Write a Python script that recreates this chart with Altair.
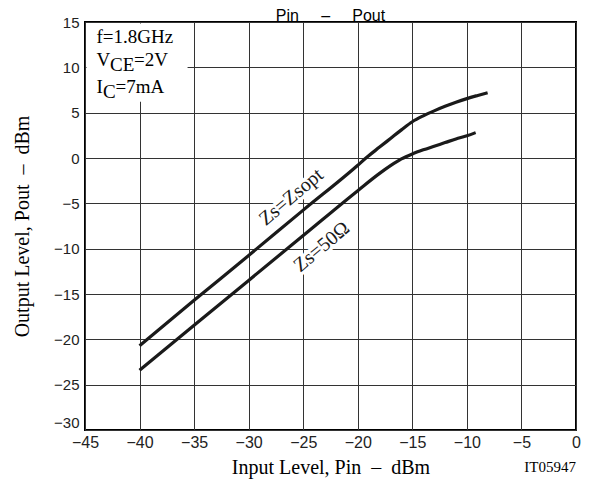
import altair as alt
import pandas as pd

# --- data ------------------------------------------------------------------
x_opt = [-40, -35, -30, -25, -20, -19.25, -18, -17, -16, -15, -14, -13, -12, -11, -10, -9, -8.1]
y_opt = [-20.7, -15.7, -10.75, -5.75, -0.8, 0.0, 1.2, 2.15, 3.1, 4.0, 4.65, 5.2, 5.7, 6.15, 6.55, 6.9, 7.2]

x_50 = [-40, -35, -30, -25, -20, -18, -17, -16, -15, -14, -13, -12, -11, -10, -9.2]
y_50 = [-23.4, -18.45, -13.5, -8.55, -3.6, -1.7, -0.85, -0.1, 0.45, 0.9, 1.3, 1.7, 2.1, 2.45, 2.8]

series_names = ["Zs=Zsopt", "Zs=50Ω"]

x_ticks = [-45, -40, -35, -30, -25, -20, -15, -10, -5, 0]
y_ticks = [-30, -25, -20, -15, -10, -5, 0, 5, 10, 15]

# curve labels (data coordinates of their centres)
lab_text = ["Zs=Zsopt", "Zs=50Ω"]
lab_x = [-26.1, -23.3]
lab_y = [-4.3, -9.8]

# condition box (data extents)
box_x = [-44.86]
box_x2 = [-35.6]
box_y = [14.83]
box_y2 = [6.2]

NB = "\u00a0"
SERIF = "Liberation Serif"
SANS = "Liberation Sans"

lines_df = pd.DataFrame(
    {"x": x_opt + x_50,
     "y": y_opt + y_50,
     "series": [series_names[0]] * len(x_opt) + [series_names[1]] * len(x_50)}
)
labels_df = pd.DataFrame({"x": lab_x, "y": lab_y, "t": lab_text})
box_df = pd.DataFrame({"x": box_x, "x2": box_x2, "y": box_y, "y2": box_y2})

xs = alt.Scale(domain=[-45, 0], nice=False, zero=False)
ys = alt.Scale(domain=[-30, 15], nice=False, zero=False)

x_axis = alt.Axis(
    values=x_ticks, title=f"Input Level, Pin{NB}{NB}–{NB}{NB}dBm",
    titleFont=SERIF, titleFontSize=20, titleFontWeight="normal", titleColor="black",
    titlePadding=7, labelFont=SANS, labelFontSize=16, labelColor="#222",
    labelPadding=4, labelFlush=False, ticks=False, domain=False,
    grid=True, gridColor="#333", gridWidth=1, gridOpacity=1,
)
y_axis = alt.Axis(
    values=y_ticks, title=f"Output Level, Pout{NB}{NB}–{NB}{NB}dBm",
    titleFont=SERIF, titleFontSize=20, titleFontWeight="normal", titleColor="black",
    titlePadding=21, labelFont=SANS, labelFontSize=15, labelColor="#222",
    labelPadding=6, ticks=False, domain=False,
    labelBaseline={"condition": {"test": "datum.value === -30", "value": "bottom"}, "value": "middle"},
    grid=True, gridColor="#333", gridWidth=1, gridOpacity=1,
)

X = alt.X("x:Q", scale=xs, axis=x_axis)
Y = alt.Y("y:Q", scale=ys, axis=y_axis)

box = alt.Chart(box_df).mark_rect(fill="white", stroke=None).encode(
    x=X, x2="x2:Q", y=Y, y2="y2:Q"
)

halo = alt.Chart(labels_df).mark_text(
    font=SERIF, fontSize=20, angle=320, stroke="white", strokeWidth=7,
    fill="white", align="center", baseline="middle"
).encode(x=X, y=Y, text="t:N")

lines = alt.Chart(lines_df).mark_line(
    color="#1a1a1a", strokeWidth=3.2, interpolate="monotone"
).encode(x=X, y=Y, detail="series:N")

labels = alt.Chart(labels_df).mark_text(
    font=SERIF, fontSize=20, angle=320, color="#1a1a1a", align="center", baseline="middle"
).encode(x=X, y=Y, text="t:N")


def piece(text, xv, yv, dx, dy=0, size=19, font=SERIF, align="left"):
    df = pd.DataFrame({"x": [xv], "y": [yv], "t": [text]})
    return alt.Chart(df).mark_text(
        font=font, fontSize=size, color="black", align=align,
        baseline="alphabetic", dx=dx, dy=dy
    ).encode(x=X, y=Y, text="t:N")


row_y = [12.68, 10.2, 7.17]
cond = (
    piece("f=1.8GHz", box_x[0], row_y[0], 10)
    + piece("V", box_x[0], row_y[1], 10)
    + piece("CE", box_x[0], row_y[1], 23.5, dy=5)
    + piece("=2V", box_x[0], row_y[1], 47.5)
    + piece("I", box_x[0], row_y[2], 10)
    + piece("C", box_x[0], row_y[2], 16.5, dy=5)
    + piece("=7mA", box_x[0], row_y[2], 29)
)

# chart title, centred over the plot, just above its top edge
gap = NB * 5
title = piece(f"Pin{gap}–{gap}Pout", -22.5, 15, 0, dy=-1.5, size=16,
              font=SANS, align="center")

code = piece("IT05947", 0, -30, 0, dy=42, size=15, align="right")

chart = alt.layer(box, halo, lines, labels, cond, title, code).properties(
    width=491, height=408,
    padding={"left": 77, "top": 14, "right": 10, "bottom": 50},
    autosize=alt.AutoSizeParams(type="none"),
).configure_view(stroke="black", strokeWidth=2)

chart.save("out.html", embed_options={"renderer": "svg", "actions": False})
